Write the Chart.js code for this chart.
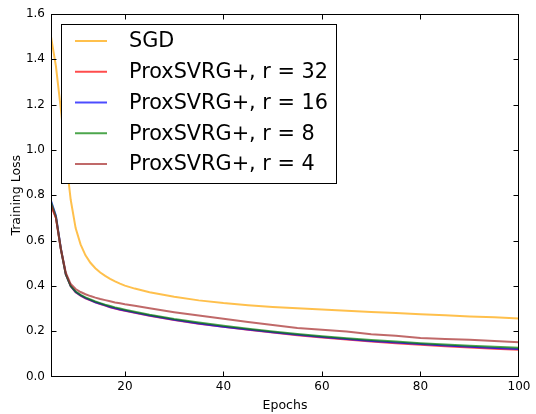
<!DOCTYPE html>
<html>
<head>
<meta charset="utf-8">
<script src="https://cdn.jsdelivr.net/npm/chart.js@4/dist/chart.umd.min.js"></script>
<style>
html,body{margin:0;padding:0;background:#fff;}
#wrap{width:536px;height:414px;position:relative;}
</style>
</head>
<body>
<div id="wrap"><canvas id="c" width="536" height="414"></canvas></div>
<script>
const epochs = [5,6,7,8,9,10,11,12,13,14,15,16,17,18,19,20,22,25,30,35,40,45,50,55,60,65,70,75,80,85,90,95,100];
const sgd  = [1.50,1.37,1.18,0.97,0.78,0.655,0.583,0.535,0.502,0.478,0.459,0.444,0.431,0.420,0.410,0.401,0.388,0.372,0.352,0.336,0.324,0.315,0.307,0.301,0.296,0.290,0.285,0.280,0.275,0.270,0.265,0.261,0.256];
const r32  = [0.755,0.70,0.56,0.45,0.398,0.372,0.357,0.345,0.336,0.327,0.320,0.313,0.306,0.300,0.295,0.290,0.281,0.268,0.249,0.233,0.219,0.206,0.194,0.182,0.172,0.163,0.155,0.147,0.140,0.134,0.128,0.123,0.118];
const r16  = [0.775,0.71,0.565,0.452,0.399,0.373,0.358,0.346,0.337,0.328,0.321,0.314,0.307,0.301,0.296,0.291,0.282,0.269,0.250,0.234,0.220,0.207,0.195,0.184,0.174,0.165,0.157,0.150,0.143,0.137,0.131,0.126,0.121];
const r8   = [0.77,0.705,0.563,0.452,0.400,0.375,0.360,0.349,0.340,0.331,0.324,0.317,0.311,0.305,0.300,0.295,0.286,0.273,0.254,0.238,0.224,0.211,0.199,0.188,0.178,0.169,0.161,0.154,0.147,0.141,0.136,0.131,0.127];
const r4   = [0.76,0.70,0.565,0.458,0.408,0.386,0.373,0.363,0.355,0.348,0.342,0.337,0.332,0.327,0.323,0.319,0.312,0.301,0.284,0.269,0.255,0.241,0.227,0.214,0.206,0.199,0.187,0.180,0.170,0.166,0.162,0.157,0.151];
const seriesLabels = ["SGD","ProxSVRG+, r = 32","ProxSVRG+, r = 16","ProxSVRG+, r = 8","ProxSVRG+, r = 4"];
const seriesColors = ["rgba(255,165,0,0.7)","rgba(255,0,0,0.7)","rgba(0,0,255,0.7)","rgba(0,128,0,0.7)","rgba(165,42,42,0.7)"];
const xTicks = [20,40,60,80,100];
const yTicks = [0,0.2,0.4,0.6,0.8,1.0,1.2,1.4,1.6];
const xTitle = "Epochs";
const yTitle = "Training Loss";

const FONT = "'DejaVu Sans', sans-serif";
const allSeries = [sgd, r32, r16, r8, r4];

const datasets = allSeries.map((s, i) => ({
  label: seriesLabels[i],
  data: epochs.map((e, k) => ({x: e, y: s[k]})),
  borderColor: seriesColors[i],
  backgroundColor: seriesColors[i],
  borderWidth: 2,
  pointRadius: 0,
  tension: 0,
  fill: false,
  order: allSeries.length - i
}));

const framePlugin = {
  id: 'frame',
  afterDatasetsDraw(chart) {
    const ctx = chart.ctx;
    const a = chart.chartArea;
    const xs = chart.scales.x, ys = chart.scales.y;
    const L = Math.round(a.left) + 0.5, R = Math.round(a.right) - 0.5;
    const T = Math.round(a.top) + 0.5, B = Math.round(a.bottom) - 0.5;
    const clamp = (v, lo, hi) => Math.min(Math.max(v, lo), hi);
    ctx.save();
    ctx.strokeStyle = '#000';
    ctx.lineWidth = 1;
    const tl = 5;
    ctx.beginPath();
    xs.ticks.forEach(t => {
      const px = clamp(Math.round(xs.getPixelForValue(t.value)) + 0.5, L, R);
      ctx.moveTo(px, B); ctx.lineTo(px, B - tl);
      ctx.moveTo(px, T); ctx.lineTo(px, T + tl);
    });
    ys.ticks.forEach(t => {
      const py = clamp(Math.round(ys.getPixelForValue(t.value)) + 0.5, T, B);
      ctx.moveTo(L, py); ctx.lineTo(L + tl, py);
      ctx.moveTo(R, py); ctx.lineTo(R - tl, py);
    });
    ctx.stroke();
    ctx.strokeRect(L, T, R - L, B - T);

    // legend box
    const lx = 61.5, ly = 24.5, lw = 275, lh = 159;
    ctx.fillStyle = '#fff';
    ctx.fillRect(lx, ly, lw, lh);
    ctx.strokeRect(lx, ly, lw, lh);
    ctx.font = '20.8px ' + FONT;
    ctx.textBaseline = 'middle';
    ctx.textAlign = 'left';
    chart.data.datasets.forEach((d, i) => {
      const y = 41 + i * 30.75;
      ctx.strokeStyle = d.borderColor;
      ctx.lineWidth = 2;
      ctx.beginPath();
      ctx.moveTo(75, y); ctx.lineTo(107, y);
      ctx.stroke();
      ctx.fillStyle = '#000';
      ctx.fillText(d.label, 129, y + 1);
    });
    ctx.restore();
  }
};

new Chart(document.getElementById('c'), {
  type: 'line',
  data: { datasets },
  options: {
    responsive: false,
    animation: false,
    devicePixelRatio: 1,
    layout: { padding: { left: 0, top: 14, right: 17, bottom: 0 } },
    plugins: { legend: { display: false }, tooltip: { enabled: false } },
    scales: {
      x: {
        type: 'linear', min: 5, max: 100,
        grid: { display: false, drawTicks: false }, border: { display: false },
        afterBuildTicks: s => { s.ticks = xTicks.map(v => ({value: v})); },
        afterFit: s => { s.height = 37.5; },
        ticks: { color: '#000', font: { family: FONT, size: 12 }, padding: 3, maxRotation: 0, autoSkip: false },
        title: { display: true, text: xTitle, color: '#000', font: { family: FONT, size: 12.5 }, padding: { top: 0, bottom: 1 } }
      },
      y: {
        type: 'linear', min: 0, max: 1.6,
        grid: { display: false, drawTicks: false }, border: { display: false },
        afterBuildTicks: s => { s.ticks = yTicks.map(v => ({value: v})); },
        afterFit: s => { s.width = 51; },
        ticks: { color: '#000', font: { family: FONT, size: 12 }, padding: 6, autoSkip: false,
                 callback: v => Number(v).toFixed(1) },
        title: { display: true, text: yTitle, color: '#000', font: { family: FONT, size: 12.5 }, padding: { top: 9, bottom: 0 } }
      }
    }
  },
  plugins: [framePlugin]
});
</script>
</body>
</html>
